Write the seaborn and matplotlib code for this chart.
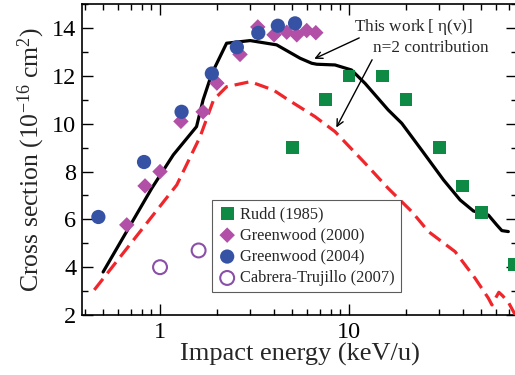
import numpy as np
import pandas as pd
import matplotlib
matplotlib.use("Agg")
import matplotlib.pyplot as plt
import seaborn as sns
from matplotlib.ticker import FixedLocator, NullFormatter, FixedFormatter

# ---------------- data ----------------
rudd_E = [5.0, 7.5, 10, 15, 20, 30, 40, 50, 75]
rudd_s = [9.0, 11.0, 12.0, 12.0, 11.0, 9.0, 7.4, 6.3, 4.1]

gw2000_E = [0.667, 0.833, 1.0, 1.29, 1.69, 2.0, 2.65, 3.29, 4.01, 4.68, 5.29, 5.97, 6.67]
gw2000_s = [5.77, 7.4, 8.0, 10.1, 10.5, 11.7, 12.9, 14.05, 13.72, 13.83, 13.72, 13.9, 13.81]

gw2004_E = [0.472, 0.823, 1.30, 1.88, 2.55, 3.31, 4.2, 5.18]
gw2004_s = [6.1, 8.4, 10.5, 12.1, 13.2, 13.8, 14.1, 14.2]

ct_E = [1.0, 1.6]
ct_s = [4.0, 4.7]

work_E = [0.5, 0.904, 1.176, 1.56, 1.69, 1.88, 2.25, 3.0, 4.14, 5.51, 6.35, 6.75,
          8.43, 10.3, 12.15, 16.1, 19.0, 24.2, 31.6, 38.7, 45.5, 54.6, 60.4, 64.3, 69.6]
work_s = [3.8, 7.3, 8.7, 9.88, 11.0, 12.1, 13.37, 13.48, 13.3, 12.74, 12.53, 12.49,
          12.46, 12.25, 11.69, 10.58, 10.02, 8.9, 7.65, 6.81, 6.35, 6.18, 5.77, 5.53, 5.49]

n2_E = [0.449, 1.226, 1.63, 1.92, 2.25, 3.0, 3.98, 4.77, 6.6, 8.43, 12.15, 16.1,
        21.5, 26.3, 36.4, 46.4, 54.6, 57.0, 60.0, 62.0, 65.0, 70.0, 77.0]
n2_s = [3.05, 7.44, 9.46, 11.0, 11.55, 11.76, 11.41, 11.0, 10.3, 9.67, 8.35, 7.3,
        6.32, 5.49, 4.65, 3.54, 2.7, 2.42, 2.75, 2.95, 2.8, 2.5, 1.9]

x_major = [1, 10]
x_major_labels = ["1", "10"]
y_major = [2, 4, 6, 8, 10, 12, 14]

# ---------------- style ----------------
sns.set_theme(style="ticks")
plt.rcParams["font.family"] = ["Liberation Serif", "DejaVu Serif"]
plt.rcParams["mathtext.fontset"] = "custom"
plt.rcParams["mathtext.rm"] = "Liberation Serif"
plt.rcParams["mathtext.default"] = "regular"

fig = plt.figure(figsize=(5.15, 3.75), dpi=100)
ax = fig.add_axes([82 / 515, 1 - 315 / 375, 1.004 - 82 / 515, (315 - 4) / 375])

GREEN = "#0f8a45"
MAGENTA = "#b24fa6"
BLUE = "#3552a4"
PURPLE = "#8a4fa8"
RED = "#f0262b"

# lines
sns.lineplot(x=work_E, y=work_s, ax=ax, color="black", lw=2.3, sort=False,
             estimator=None, legend=False, zorder=3)
sns.lineplot(x=n2_E, y=n2_s, ax=ax, color=RED, lw=2.3, sort=False,
             estimator=None, legend=False, zorder=3, dashes=False)
ax.lines[-1].set_dashes([4.4, 2.2])

# markers
sns.scatterplot(x=rudd_E, y=rudd_s, ax=ax, marker="s", s=85, color=GREEN,
                edgecolor="none", label="Rudd (1985)", zorder=4)
sns.scatterplot(x=gw2000_E, y=gw2000_s, ax=ax, marker="D", s=62, color=MAGENTA,
                edgecolor="none", label="Greenwood (2000)", zorder=4)
sns.scatterplot(x=gw2004_E, y=gw2004_s, ax=ax, marker="o", s=105, color=BLUE,
                edgecolor="none", label="Greenwood (2004)", zorder=5)
sns.scatterplot(x=ct_E, y=ct_s, ax=ax, marker="o", s=100, facecolor="none",
                edgecolor=PURPLE, linewidth=1.5, label="Cabrera-Trujillo (2007)", zorder=5)

ax.set_xscale("log")
ax.set_xlim(0.3866, 77.4)
ax.set_ylim(2, 15.01)

ax.xaxis.set_major_locator(FixedLocator(x_major))
ax.xaxis.set_major_formatter(FixedFormatter(x_major_labels))
minors = [v * d for d in (0.1, 1, 10) for v in range(2, 10) if 0.39 <= v * d <= 77]
minors = [m for m in minors if m not in x_major]
ax.xaxis.set_minor_locator(FixedLocator(minors))
ax.xaxis.set_minor_formatter(NullFormatter())
ax.yaxis.set_major_locator(FixedLocator(y_major))
ax.yaxis.set_minor_locator(FixedLocator([3, 5, 7, 9, 11, 13, 15]))

ax.tick_params(which="both", direction="in", top=True, right=True, width=1.0,
               colors="black")
ax.tick_params(axis="both", which="major", length=8, labelsize=17.5)
ax.tick_params(axis="x", which="major", pad=5)
ax.tick_params(axis="y", which="major", pad=4)
ax.tick_params(which="minor", length=4)
for sp in ax.spines.values():
    sp.set_linewidth(1.2)
    sp.set_color("black")

ax.set_xlabel("Impact energy (keV/u)", fontsize=19, labelpad=0)
ax.set_ylabel(r"Cross section (10$^{-16}$ cm$^{2}$)", fontsize=18.5, labelpad=4)

leg = ax.legend(loc="lower left", bbox_to_anchor=((211 - 82) / 433, (315 - 292) / 311),
                fontsize=11.8, frameon=True, fancybox=False, handletextpad=0.2,
                borderpad=0.35, labelspacing=0.33, handlelength=1.2, borderaxespad=0)
leg.get_frame().set_edgecolor("#333333")
leg.get_frame().set_linewidth(0.8)

# annotations
ax.text(21.8, 14.05, r"This work$\,$[ η(v)]", fontsize=12.4, ha="center", va="center")
ax.text(27.2, 13.17, "n=2 contribution", fontsize=12.4, ha="center", va="center")
ax.annotate("", xy=(6.35, 12.67), xytext=(11.67, 13.64),
            arrowprops=dict(arrowstyle="->", color="black", lw=1.0))
ax.annotate("", xy=(8.43, 9.74), xytext=(13.45, 12.78),
            arrowprops=dict(arrowstyle="->", color="black", lw=1.0))

fig.savefig("out.png", dpi=100)
